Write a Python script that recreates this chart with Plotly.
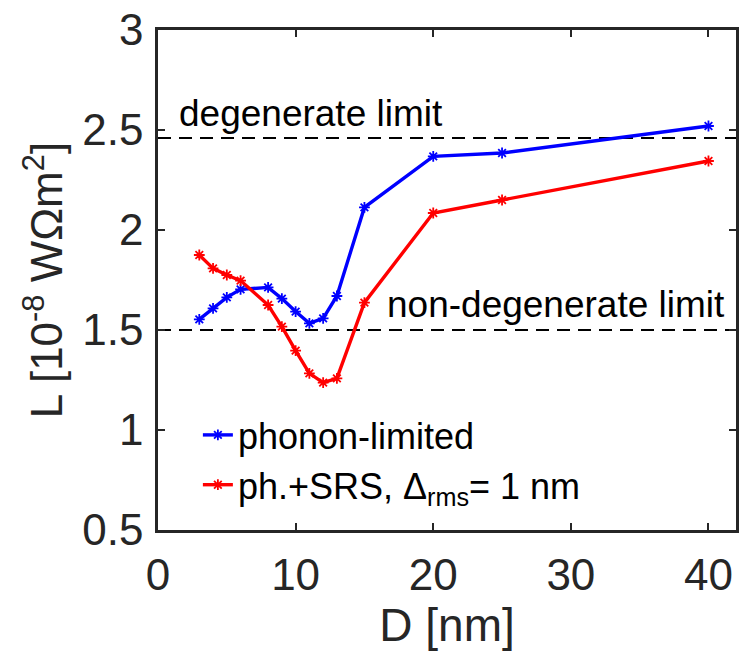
import plotly.graph_objects as go

# Data
D = [3, 4, 5, 6, 8, 9, 10, 11, 12, 13, 15, 20, 25, 40]
L_phonon = [1.553, 1.608, 1.663, 1.703, 1.713, 1.657, 1.592, 1.533, 1.558, 1.67, 2.113, 2.368, 2.385, 2.52]
L_srs = [1.875, 1.808, 1.775, 1.747, 1.625, 1.517, 1.397, 1.283, 1.237, 1.258, 1.637, 2.085, 2.15, 2.345]

degenerate_limit = 2.46
nondegenerate_limit = 1.5

x_range = [0, 42]
y_range = [0.5, 3]
x_ticks = [0, 10, 20, 30, 40]
y_ticks = [0.5, 1, 1.5, 2, 2.5, 3]
y_ticklabels = ["0.5", "1", "1.5", "2", "2.5", "3"]

FONT = "Liberation Sans, Arial, Helvetica, sans-serif"
AXC = "#262626"

fig = go.Figure()

fig.add_trace(go.Scatter(
    x=D, y=L_phonon, mode="lines+markers", name="phonon-limited",
    line=dict(color="#0000ff", width=3.4),
    marker=dict(symbol="asterisk-open", size=9, color="#0000ff",
                line=dict(color="#0000ff", width=1.8)),
))
fig.add_trace(go.Scatter(
    x=D, y=L_srs, mode="lines+markers",
    name="ph.+SRS, Δ<sub>rms</sub>= 1 nm",
    line=dict(color="#ff0000", width=3.4),
    marker=dict(symbol="asterisk-open", size=9, color="#ff0000",
                line=dict(color="#ff0000", width=1.8)),
))

for yv in (degenerate_limit, nondegenerate_limit):
    fig.add_shape(type="line", xref="paper", x0=0, x1=1, yref="y", y0=yv, y1=yv,
                  line=dict(color="black", width=2.2, dash="13px,8px"), layer="below")

fig.add_annotation(x=1.4, y=degenerate_limit, xref="x", yref="y",
                   text="degenerate limit", showarrow=False,
                   xanchor="left", yanchor="bottom", yshift=2,
                   font=dict(family=FONT, size=37, color="black"))
fig.add_annotation(x=16.5, y=nondegenerate_limit, xref="x", yref="y",
                   text="non-degenerate limit", showarrow=False,
                   xanchor="left", yanchor="bottom", yshift=3,
                   font=dict(family=FONT, size=37, color="black"))

axis_common = dict(
    showline=True, linecolor=AXC, linewidth=2.5, mirror="ticks",
    ticks="inside", ticklen=7, tickwidth=2, tickcolor=AXC,
    showgrid=False, zeroline=False, automargin=False,
    tickfont=dict(family=FONT, size=44, color=AXC),
)

fig.update_layout(
    width=739, height=651,
    margin=dict(l=158, r=3, t=30, b=121, autoexpand=False),
    paper_bgcolor="white", plot_bgcolor="white",
    font=dict(family=FONT, color=AXC),
    showlegend=True,
    legend=dict(x=0.069, y=0.25, xanchor="left", yanchor="top",
                bgcolor="rgba(0,0,0,0)", borderwidth=0,
                font=dict(family=FONT, size=36, color="black"),
                tracegroupgap=0),
    xaxis=dict(range=x_range, tickvals=x_ticks, ticklabelstandoff=4,
               title=dict(text="D [nm]", font=dict(family=FONT, size=46, color=AXC), standoff=4),
               **axis_common),
    yaxis=dict(range=y_range, tickvals=y_ticks, ticktext=y_ticklabels, ticklabelstandoff=3,
               title=dict(text="L [10<sup>-8</sup> WΩm<sup>2</sup>]",
                          font=dict(family=FONT, size=44, color=AXC), standoff=6),
               **axis_common),
)

fig.write_html("out.html", config={"displayModeBar": False},
               post_script="document.body.style.margin='0';document.body.style.overflow='hidden';")
